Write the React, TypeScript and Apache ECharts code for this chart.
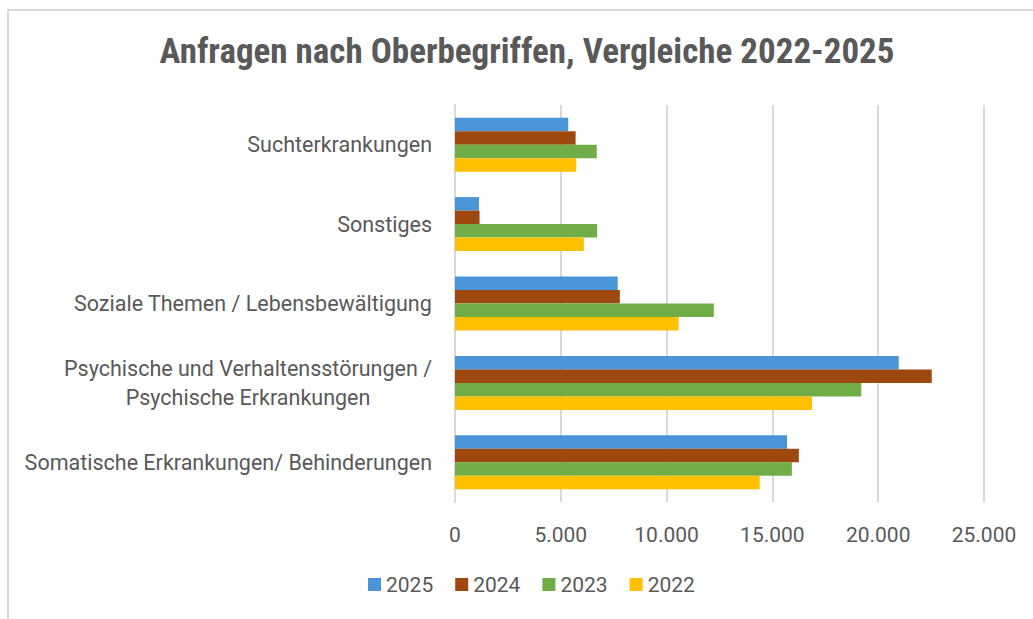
import React, { useEffect, useRef } from "react";
import * as echarts from "echarts";

const categories = [
  "Somatische Erkrankungen/ Behinderungen",
  "Psychische und Verhaltensstörungen /\nPsychische Erkrankungen",
  "Soziale Themen / Lebensbewältigung",
  "Sonstiges",
  "Suchterkrankungen",
];
const years = ["2025", "2024", "2023", "2022"];
const values2025 = [15690, 20970, 7690, 1130, 5350];
const values2024 = [16250, 22530, 7790, 1160, 5700];
const values2023 = [15920, 19200, 12230, 6720, 6700];
const values2022 = [14400, 16870, 10570, 6090, 5730];
const colors: Record<string, string> = {
  "2025": "#4A94D8",
  "2024": "#9C480E",
  "2023": "#70AD47",
  "2022": "#FFC000",
};
const xTicks = { min: 0, max: 25000, interval: 5000 };

const seriesData: Record<string, number[]> = {
  "2025": values2025,
  "2024": values2024,
  "2023": values2023,
  "2022": values2022,
};

export default function App() {
  const ref = useRef<HTMLDivElement>(null);
  useEffect(() => {
    if (!ref.current) return;
    const chart = echarts.init(ref.current, undefined, { renderer: "svg" });
    const textColor = "#595959";
    const font = "Roboto, 'Liberation Sans', sans-serif";
    chart.setOption({
      animation: false,
      backgroundColor: "#ffffff",
      title: {
        text: "Anfragen nach Oberbegriffen, Vergleiche 2022-2025",
        left: 522,
        textAlign: "center",
        top: 29,
        textStyle: {
          color: textColor,
          fontSize: 35,
          fontWeight: "bold",
          fontFamily: "'Liberation Sans Narrow', 'Roboto Condensed', Roboto, sans-serif",
        },
      },
      graphic: [
        {
          type: "rect",
          shape: { x: 8, y: 10, width: 1100, height: 700 },
          style: { fill: "none", stroke: "#D9D9D9", lineWidth: 2 },
          silent: true,
          z: -1,
        },
      ],
      legend: {
        data: years,
        bottom: 19,
        left: 363,
        itemWidth: 13,
        itemHeight: 13,
        itemGap: 22,
        icon: "rect",
        textStyle: { color: textColor, fontSize: 21, fontFamily: font },
      },
      grid: { left: 455, right: 49, top: 105, bottom: 117, containLabel: false },
      xAxis: {
        type: "value",
        min: xTicks.min,
        max: xTicks.max,
        interval: xTicks.interval,
        axisLine: { show: false },
        axisTick: { show: false },
        splitLine: { lineStyle: { color: "#D9D9D9", width: 2 } },
        axisLabel: {
          color: textColor,
          fontSize: 21,
          fontFamily: font,
          margin: 22,
          formatter: (v: number) =>
            v === 0 ? "0" : v.toLocaleString("de-DE"),
        },
      },
      yAxis: {
        type: "category",
        data: categories,
        axisLine: { show: true, lineStyle: { color: "#D9D9D9", width: 2 } },
        axisTick: { show: false },
        axisLabel: {
          color: textColor,
          fontSize: 21.5,
          fontFamily: font,
          margin: 23,
          lineHeight: 29,
          formatter: (v: string) =>
            v
              .split("\n")
              .map((l) => "{c|" + l + "}")
              .join("\n"),
          rich: {
            c: {
              align: "center",
              color: textColor,
              fontSize: 21.5,
              fontFamily: font,
              lineHeight: 29,
            },
          },
        },
      },
      series: years.map((y) => ({
        name: y,
        type: "bar",
        data: seriesData[y],
        itemStyle: { color: colors[y] },
        barGap: "0%",
        barCategoryGap: "32%",
      })),
    });
    return () => chart.dispose();
  }, []);
  return (
    <div
      ref={ref}
      style={{ position: "fixed", left: 0, top: 0, width: 1033, height: 619 }}
    />
  );
}
